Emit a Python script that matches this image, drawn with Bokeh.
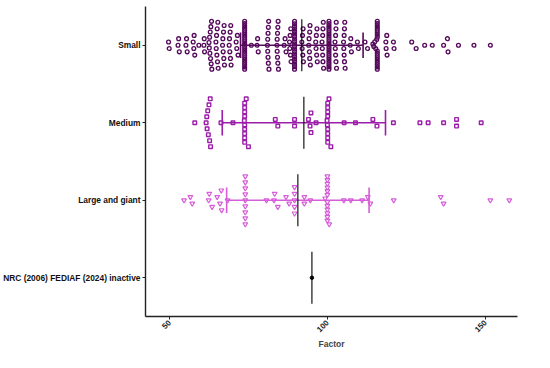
import math
import numpy as np
from bokeh.plotting import figure
from bokeh.models import Range1d, FixedTicker, ColumnDataSource
from bokeh.embed import file_html
from bokeh.resources import INLINE

# ---------------- data ----------------
categories = ["NRC (2006) FEDIAF (2024) inactive", "Large and giant", "Medium", "Small"]
cat_pos = [1, 2, 3, 4]

small_values = [
    49.6, 49.8,
    52.6, 52.8, 53.0,
    55.1, 55.3, 55.5,
    57.4, 57.6, 57.7, 57.9,
    59.2,
    60.8, 60.9, 61.0,
    62.4, 62.5, 62.6, 62.7, 62.8, 62.9, 63.0, 63.1, 63.2, 63.3,
    64.6, 64.7, 64.8, 64.9, 65.0, 65.1, 65.2, 65.3,
    66.7, 66.8, 66.9, 67.0, 67.1, 67.2, 67.3,
    68.8, 68.9, 69.0, 69.1, 69.2, 69.3, 69.4,
    71.0, 71.2, 71.4, 71.6,
    73.7, 73.7, 73.7, 73.7, 73.7, 73.7, 73.7, 73.7, 73.7, 73.7, 73.7,
    73.7, 73.7, 73.7, 73.7, 73.7, 73.7, 73.7, 73.7, 73.7, 73.7, 73.7,
    75.8,
    77.6, 77.8, 78.0,
    80.9, 81.0, 81.0, 81.1, 81.1, 81.2, 81.2, 81.3, 81.4,
    83.9, 84.0, 84.0, 84.1, 84.1, 84.2, 84.2, 84.3, 84.4,
    86.2, 86.5, 86.8,
    87.9, 88.0, 88.1, 88.2, 88.3, 88.4,
    89.5, 89.5, 89.5, 89.5, 89.5, 89.5, 89.5, 89.5, 89.5, 89.5,
    89.5, 89.5, 89.5, 89.5, 89.5, 89.5, 89.5, 89.5, 89.5, 89.5,
    91.8, 91.9, 92.0, 92.1, 92.2, 92.3,
    94.0, 94.1, 94.2, 94.3, 94.3, 94.4, 94.5,
    96.2, 96.3, 96.4, 96.5, 96.6, 96.7,
    98.2, 98.3, 98.4, 98.4, 98.5, 98.5, 98.6, 98.7,
    100.4, 100.4, 100.4, 100.4, 100.4, 100.4, 100.4, 100.4, 100.4, 100.4, 100.4,
    100.4, 100.4, 100.4, 100.4, 100.4, 100.4, 100.4, 100.4, 100.4, 100.4, 100.4,
    102.3, 102.4, 102.5, 102.5, 102.6, 102.6, 102.7, 102.8,
    105.0, 105.1, 105.2, 105.2, 105.3, 105.3, 105.4, 105.5,
    107.1, 107.3, 107.5,
    109.4, 109.7,
    111.8, 112.6,
    114.3, 114.6, 114.9, 115.2, 115.5,
    115.7, 115.7, 115.7, 115.7, 115.7, 115.7, 115.7, 115.7, 115.7,
    115.7, 115.7, 115.7, 115.7, 115.7, 115.7, 115.7, 115.7,
    118.4, 118.5, 118.7, 118.8,
    120.8, 121.0,
    126.6, 128.0,
    130.7, 133.1,
    136.7, 137.9, 138.1,
    141.4, 146.3, 151.5,
]

medium_values = [
    57.9,
    61.5, 61.7, 61.8, 62.0, 62.2, 62.4, 62.6, 62.8, 62.9,
    66.2, 70.0,
    73.6, 73.7, 73.7, 73.7, 73.7, 73.7, 73.7, 73.7, 73.7, 73.7, 74.2, 74.9,
    83.4, 84.2,
    89.5, 89.5,
    93.9, 94.4, 94.7, 94.7,
    96.3,
    99.8, 99.9, 100.0, 100.0, 100.0, 100.0, 100.0, 100.0, 100.0, 100.0, 100.4, 101.0,
    105.2, 108.8,
    114.3, 115.6,
    120.8, 129.2, 131.8, 136.7,
    140.8, 140.8,
    148.6,
]

large_values = [
    54.5,
    56.5, 57.1,
    62.3, 62.5, 63.4,
    65.0, 65.9, 66.3, 66.4,
    68.3,
    73.9, 73.9, 73.9, 73.9, 73.9, 73.9, 73.9, 73.9, 73.9,
    80.6,
    83.0, 83.2, 84.2,
    86.8, 87.8,
    89.5, 89.5, 89.5, 89.5, 89.5,
    92.6, 92.6,
    94.5,
    99.2, 99.9, 99.9, 99.9, 99.9, 99.9, 99.9, 99.9, 99.9, 99.9, 99.9, 99.9, 99.9, 100.5,
    105.1, 107.3,
    110.9, 112.7, 113.5,
    120.9,
    135.8, 136.7,
    151.5, 157.5,
]

nrc_value = [95.0]

# summary (mean +/- SD)
summary_pos = [4, 3, 2, 1]
summary_mean = [91.8, 92.45, 90.55, 95.0]
summary_sd = [19.4, 25.85, 22.55, 0.0]

# ---------------- styling ----------------
col_small = "#560A5C"
col_medium = "#9C1DAA"
col_large = "#D65ED8"
summary_colors = [col_small, col_medium, col_large, "black"]

W_PX, H_PX = 534, 352
BORDER_L, BORDER_R, BORDER_T, BORDER_B = 145, 17, 6, 35
X0, X1 = 42.3, 160.1
Y0, Y1 = 0.5, 4.5
plot_h = H_PX - BORDER_T - BORDER_B
px_per_cat = plot_h / (Y1 - Y0)

STEP = 6.6 / px_per_cat      # vertical spacing of stacked points
HALF = 24.0 / px_per_cat     # max half-width of a stack
BIN = 1.5                    # value-axis bin width


def stack_offsets(vals):
    """Centre-method beeswarm: bin along value axis, stack symmetric."""
    v = np.asarray(vals, dtype=float)
    order = np.argsort(v, kind="stable")
    off = np.zeros(len(v))
    i = 0
    while i < len(order):
        start = v[order[i]]
        j = i
        while j < len(order) and v[order[j]] - start < BIN:
            j += 1
        idx = order[i:j]
        n = len(idx)
        if n > 1:
            s = min(STEP, 2 * HALF / (n - 1))
            pos = [(k - (n - 1) / 2.0) * s for k in range(n)]
            pos.sort(key=lambda q: (round(abs(q), 9), -q))
            for kk, ii in enumerate(idx):
                off[ii] = pos[kk]
        i = j
    return off


p = figure(width=W_PX, height=H_PX, output_backend="svg", toolbar_location=None,
           x_range=Range1d(X0, X1), y_range=Range1d(Y0, Y1),
           min_border_left=BORDER_L, min_border_right=BORDER_R,
           min_border_top=BORDER_T, min_border_bottom=BORDER_B)
p.outline_line_color = None
p.xgrid.visible = False
p.ygrid.visible = False
p.background_fill_color = "white"
p.border_fill_color = "white"

groups = [
    (small_values, 4, col_small, "circle", 3.8, 1.35),
    (medium_values, 3, col_medium, "square", 3.6, 1.4),
    (large_values, 2, col_large, "inverted_triangle", 4.8, 1.2),
]
for vals, ypos, col, mk, sz, lw in groups:
    offs = stack_offsets(vals)
    src = ColumnDataSource(dict(x=list(vals), y=list(ypos + offs)))
    p.scatter("x", "y", source=src, marker=mk, size=sz, fill_color=None,
              line_color=col, line_width=lw)

# mean +/- SD bars
lo = [m - s for m, s in zip(summary_mean, summary_sd)]
hi = [m + s for m, s in zip(summary_mean, summary_sd)]
bars = ColumnDataSource(dict(lo=lo[:3], hi=hi[:3], y=summary_pos[:3],
                             ylo=[y - 0.165 for y in summary_pos[:3]],
                             yhi=[y + 0.165 for y in summary_pos[:3]],
                             c=summary_colors[:3]))
p.segment(x0="lo", x1="hi", y0="y", y1="y", source=bars, line_color="c", line_width=1.6)
p.segment(x0="lo", x1="lo", y0="ylo", y1="yhi", source=bars, line_color="c", line_width=1.6)
p.segment(x0="hi", x1="hi", y0="ylo", y1="yhi", source=bars, line_color="c", line_width=1.6)

means = ColumnDataSource(dict(m=summary_mean, y0=[y - 0.335 for y in summary_pos],
                              y1=[y + 0.335 for y in summary_pos]))
p.segment(x0="m", x1="m", y0="y0", y1="y1", source=means, line_color="black", line_width=1.1)

p.scatter(x=nrc_value, y=[1], marker="circle", size=3.5, fill_color="black", line_color="black")

# axes
p.xaxis.ticker = FixedTicker(ticks=[50, 100, 150])
p.xaxis.minor_tick_line_color = None
p.xaxis.major_label_orientation = math.pi / 4
p.xaxis.axis_label = "Factor"
p.xaxis.axis_label_text_font = "Liberation Sans"
p.xaxis.axis_label_text_font_style = "bold"
p.xaxis.axis_label_text_font_size = "8.5px"
p.xaxis.axis_label_standoff = 2
p.xaxis.major_label_text_font = "Liberation Sans"
p.xaxis.major_label_text_font_style = "bold"
p.xaxis.major_label_text_font_size = "8px"
p.xaxis.major_label_text_color = "#222222"
p.xaxis.major_label_standoff = 2

p.yaxis.ticker = FixedTicker(ticks=cat_pos)
p.yaxis.major_label_overrides = {k: v for k, v in zip(cat_pos, categories)}
p.yaxis.minor_tick_line_color = None
p.yaxis.major_label_text_font = "Liberation Sans"
p.yaxis.major_label_text_font_style = "bold"
p.yaxis.major_label_text_font_size = "8.4px"
p.yaxis.major_label_text_color = "#111111"
p.yaxis.major_label_standoff = 2

for ax in (p.xaxis, p.yaxis):
    ax.axis_line_color = "#222222"
    ax.axis_line_width = 1.4
    ax.major_tick_line_color = "#222222"
    ax.major_tick_line_width = 1
    ax.major_tick_out = 3
    ax.major_tick_in = 0

open("out.html", "w").write(file_html(p, INLINE))
